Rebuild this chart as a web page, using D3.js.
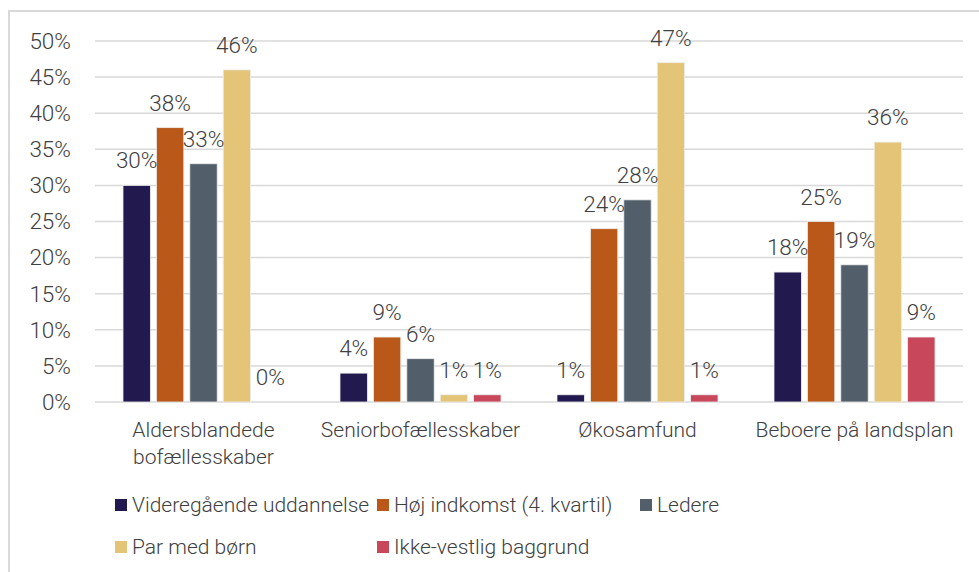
<!DOCTYPE html>
<html>
<head>
<meta charset="utf-8">
<script src="https://cdn.jsdelivr.net/npm/d3@7"></script>
<style>
  html, body { margin: 0; padding: 0; background: #fff; }
  svg text { font-family: Roboto, "Noto Sans", sans-serif; font-weight: 300; fill: #404040; }
</style>
</head>
<body>
<svg id="chart" width="979" height="572"></svg>
<script>
const categories = [
    ['Aldersblandede', 'bofællesskaber'],
    ['Seniorbofællesskaber'],
    ['Økosamfund'],
    ['Beboere på landsplan']
];
const seriesNames = [
    'Videregående uddannelse',
    'Høj indkomst (4. kvartil)',
    'Ledere',
    'Par med børn',
    'Ikke-vestlig baggrund'
];
const seriesColors = ['#221a4f', '#b95818', '#525f6b', '#e4c476', '#c9475a'];
// values per series, one per category (percent)
const videregaaende = [30, 4, 1, 18];
const hoejIndkomst = [38, 9, 24, 25];
const ledere = [33, 6, 28, 19];
const parMedBoern = [46, 1, 47, 36];
const ikkeVestlig = [0, 1, 1, 9];
const yTicks = [0, 5, 10, 15, 20, 25, 30, 35, 40, 45, 50];

const seriesValues = [videregaaende, hoejIndkomst, ledere, parMedBoern, ikkeVestlig];

const W = 979, H = 572;
const plot = {left: 95, right: 963, top: 41, bottom: 402};
const FONT = 21;
const NUM_FONT = 22.5;

const svg = d3.select('#chart');

// outer frame
svg.append('rect')
    .attr('x', 9).attr('y', 11)
    .attr('width', W).attr('height', H)
    .attr('fill', 'none')
    .attr('stroke', '#d9d9d9')
    .attr('stroke-width', 2);

const catKeys = categories.map(c => c.join(' '));

const x0 = d3.scaleBand()
    .domain(catKeys)
    .range([plot.left, plot.right])
    .paddingInner(0.258)
    .paddingOuter(0.129);

const x1 = d3.scaleBand()
    .domain(d3.range(seriesNames.length))
    .range([0, x0.bandwidth()])
    .paddingInner(0.18);

const y = d3.scaleLinear()
    .domain([0, 50])
    .range([plot.bottom, plot.top]);

// gridlines
svg.append('g')
    .selectAll('line')
    .data(yTicks)
    .join('line')
    .attr('x1', plot.left)
    .attr('x2', plot.right)
    .attr('y1', d => y(d))
    .attr('y2', d => y(d))
    .attr('stroke', '#d9d9d9')
    .attr('stroke-width', 1.5);

// y tick labels
svg.append('g')
    .selectAll('text')
    .data(yTicks)
    .join('text')
    .attr('x', 71)
    .attr('y', d => y(d))
    .attr('dy', '0.35em')
    .attr('text-anchor', 'end')
    .attr('font-size', NUM_FONT)
    .text(d => d + '%');

// bars
const rows = [];
catKeys.forEach((c, ci) => {
    seriesValues.forEach((vals, si) => {
        rows.push({cat: c, s: si, v: vals[ci]});
    });
});

const groups = svg.append('g');

groups.selectAll('rect')
    .data(rows)
    .join('rect')
    .attr('x', d => x0(d.cat) + x1(d.s))
    .attr('y', d => y(d.v))
    .attr('width', x1.bandwidth())
    .attr('height', d => y(0) - y(d.v))
    .attr('fill', d => seriesColors[d.s])
    .attr('stroke', '#eeeeee')
    .attr('stroke-width', 0.8);

// value labels
groups.selectAll('text')
    .data(rows)
    .join('text')
    .attr('x', d => x0(d.cat) + x1(d.s) + x1.bandwidth() / 2)
    .attr('y', d => y(d.v) - 17)
    .attr('text-anchor', 'middle')
    .attr('font-size', NUM_FONT)
    .text(d => d.v + '%');

// category labels
const catLabels = svg.append('g')
    .selectAll('text')
    .data(categories)
    .join('text')
    .attr('x', (d, i) => x0(catKeys[i]) + x0.bandwidth() / 2)
    .attr('y', 437)
    .attr('text-anchor', 'middle')
    .attr('font-size', FONT);

catLabels.selectAll('tspan')
    .data(d => d)
    .join('tspan')
    .attr('x', function () { return d3.select(this.parentNode).attr('x'); })
    .attr('dy', (d, i) => i === 0 ? 0 : 27)
    .text(d => d);

// legend
const legendPos = [
    {x: 115, y: 505}, {x: 377, y: 505}, {x: 640, y: 505},
    {x: 115, y: 547}, {x: 377, y: 547}
];

const legend = svg.append('g')
    .selectAll('g')
    .data(seriesNames)
    .join('g')
    .attr('transform', (d, i) => `translate(${legendPos[i].x},${legendPos[i].y})`);

legend.append('rect')
    .attr('x', 0)
    .attr('y', -6)
    .attr('width', 12)
    .attr('height', 12)
    .attr('fill', (d, i) => seriesColors[i]);

legend.append('text')
    .attr('x', 17)
    .attr('dy', '0.35em')
    .attr('font-size', FONT)
    .text(d => d);
</script>
</body>
</html>
